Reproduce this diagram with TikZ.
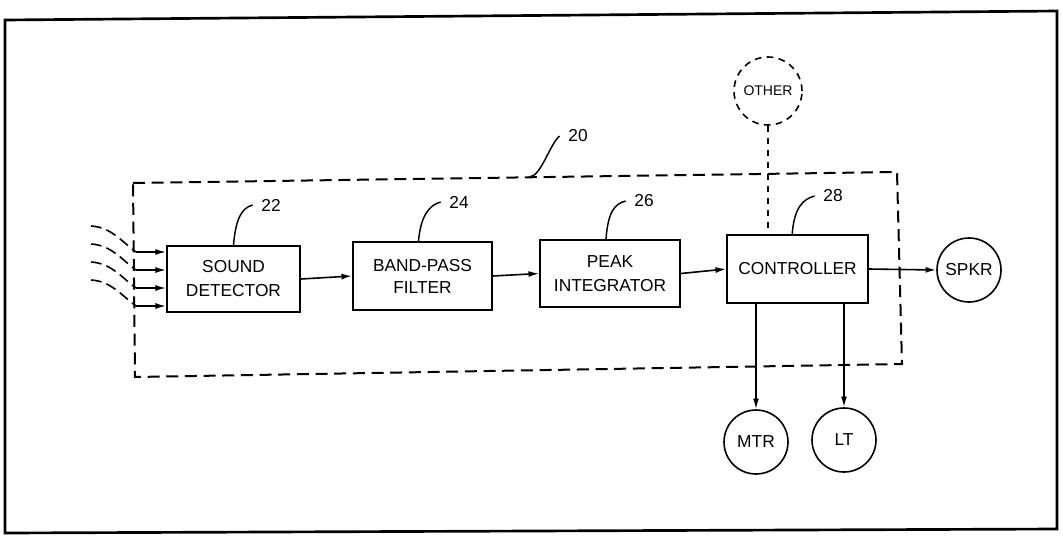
\documentclass[tikz,border=0pt]{standalone}
\usepackage{fontspec}
\setmainfont{Liberation Sans}
\usetikzlibrary{arrows.meta}
\begin{document}
\begin{tikzpicture}[x=0.75pt,y=-0.75pt,
 blk/.style={draw,line width=1.3pt,align=center,inner sep=0pt,font=\fontsize{13}{18}\selectfont},
 ext/.style={draw,circle,line width=1.2pt,minimum size=48pt,inner sep=0pt,font=\fontsize{13}{15}\selectfont},
 arr/.style={line width=1.2pt,-{Latex[length=8pt,width=4.5pt]}},
 lead/.style={line width=1.1pt},
 num/.style={font=\fontsize{13}{15}\selectfont},
 grp/.style={draw,line width=1.5pt,dash pattern=on 9pt off 5pt},
 wave/.style={line width=1.2pt,dash pattern=on 8pt off 4pt},
 dsh/.style={line width=1.2pt,dash pattern=on 5pt off 4pt}]
\useasboundingbox (0,0) rectangle (1063,536);
% outer frame
\draw[line width=2pt] (5,20) -- (1057,11) -- (1057,529) -- (5,533) -- cycle;
% group 20
\draw[grp] (133,183) -- (897,172) -- (902,364) -- (135,377) -- cycle;
\coordinate (g20) at (529,177);
% blocks
\node[blk,minimum width=99.75pt,minimum height=49.5pt] (sd) at (233.5,279) {SOUND\\DETECTOR};
\node[blk,minimum width=104.25pt,minimum height=51pt,font=\fontsize{13}{16.5}\selectfont] (bp) at (422.5,276) {BAND-PASS\\FILTER};
\node[blk,minimum width=105pt,minimum height=50.25pt] (pk) at (610,273.5) {PEAK\\INTEGRATOR};
\node[blk,minimum width=105.75pt,minimum height=51pt] (ct) at (797.5,269) {CONTROLLER};
% external circles
\node[ext] (spkr) at (969,270) {SPKR};
\node[ext] (mtr) at (756,442) {MTR};
\node[ext] (lt) at (844,440) {LT};
\node[ext,dsh,minimum size=51pt,font=\fontsize{10.5}{12}\selectfont] (oth) at (768,91) {OTHER};
% reference numerals
\node[num] (n20) at (578,136) {20};
\node[num] (n22) at (271,205) {22};
\node[num] (n24) at (459,202) {24};
\node[num] (n26) at (644,201) {26};
\node[num] (n28) at (833,196) {28};
% leaders
\draw[lead] (g20) .. controls +(12,0) and +(-10,8) .. ([xshift=-3pt]n20.west);
\draw[lead] (sd.north) .. controls +(2,-24) and +(-12,3) .. ([xshift=-3pt]n22.west);
\draw[lead] ([xshift=-3pt]bp.north) .. controls +(2,-24) and +(-12,3) .. ([xshift=-3pt]n24.west);
\draw[lead] ([xshift=-3pt]pk.north) .. controls +(2,-26) and +(-12,3) .. ([xshift=-3pt]n26.west);
\draw[lead] ([xshift=-4pt]ct.north) .. controls +(2,-26) and +(-12,3) .. ([xshift=-3pt]n28.west);
% input sound waves
\foreach \y [count=\i] in {252,270,288,306} {
  \coordinate (w\i) at (136,\y);
  \draw[wave] (91,\y-26) .. controls (112,\y-25) and (124,\y-8) .. (w\i);
  \draw[arr] (w\i) -- (w\i -| sd.west);
}
% signal chain
\draw[arr] (sd.east) -- (bp.west);
\draw[arr] (bp.east) -- (pk.west);
\draw[arr] (pk.east) -- (ct.west);
\draw[arr] (ct.east) -- (spkr.west);
\draw[arr] (ct.south -| mtr.north) -- (mtr.north);
\draw[arr] (ct.south -| lt.north) -- (lt.north);
\draw[dsh] (oth.south) -- (oth.south |- ct.north);
\end{tikzpicture}
\end{document}
